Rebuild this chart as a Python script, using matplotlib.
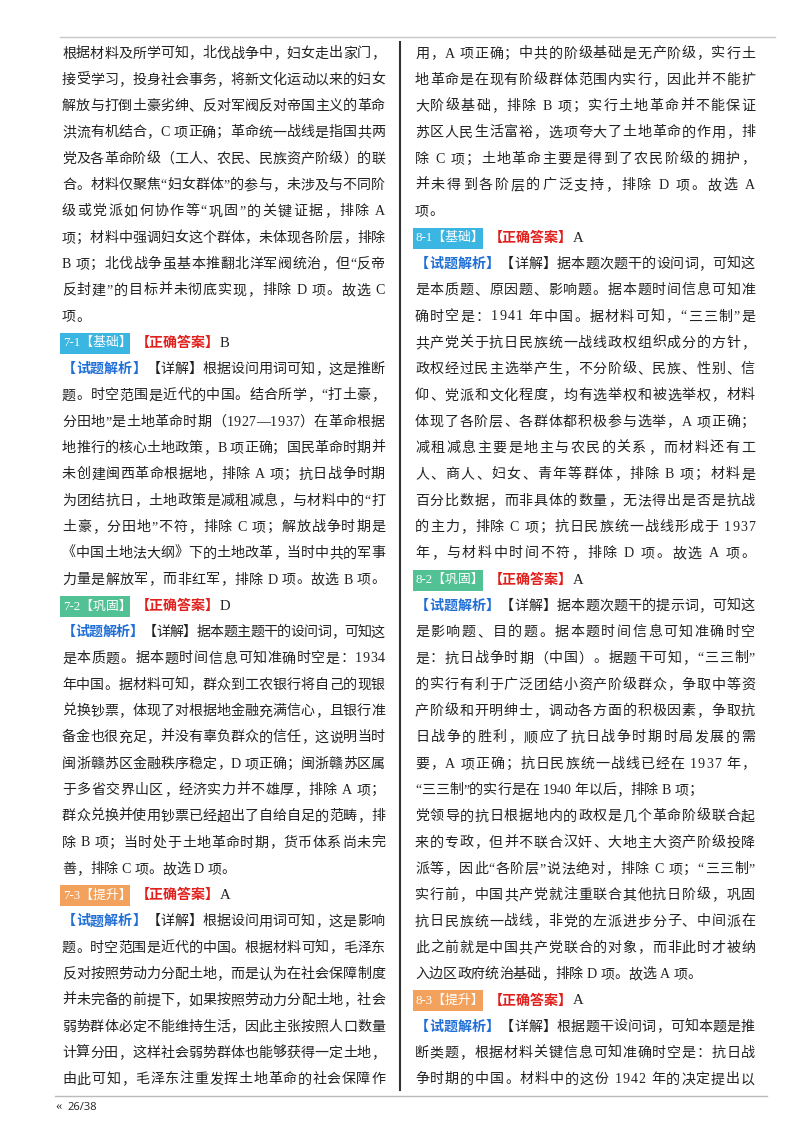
import matplotlib
matplotlib.use("Agg")
import matplotlib.pyplot as plt
from matplotlib.patches import Rectangle

FAMILY = ["Liberation Serif", "Noto Sans CJK SC", "DejaVu Sans"]
FS = 10.1
BLACK = "#222222"
RED = "#e0201c"
BLUE = "#1f6fd6"
BADGE_COLORS = {"基础": "#3bb5e2", "巩固": "#52c194", "提升": "#f3a25e"}
TAG = "【试题解析】"

# badge lines: ("badge", number, level, answer)
left_lines = [
    "根据材料及所学可知，北伐战争中，妇女走出家门，",
    "接受学习，投身社会事务，将新文化运动以来的妇女",
    "解放与打倒土豪劣绅、反对军阀反对帝国主义的革命",
    "洪流有机结合，C 项正确；革命统一战线是指国共两",
    "党及各革命阶级（工人、农民、民族资产阶级）的联",
    "合。材料仅聚焦“妇女群体”的参与，未涉及与不同阶",
    "级或党派如何协作等“巩固”的关键证据，排除 A",
    "项；材料中强调妇女这个群体，未体现各阶层，排除",
    "B 项；北伐战争虽基本推翻北洋军阀统治，但“反帝",
    "反封建”的目标并未彻底实现，排除 D 项。故选 C",
    "项。",
    ("badge", "7-1", "基础", "B"),
    "【试题解析】【详解】根据设问用词可知，这是推断",
    "题。时空范围是近代的中国。结合所学，“打土豪，",
    "分田地”是土地革命时期（1927—1937）在革命根据",
    "地推行的核心土地政策，B 项正确；国民革命时期并",
    "未创建闽西革命根据地，排除 A 项；抗日战争时期",
    "为团结抗日，土地政策是减租减息，与材料中的“打",
    "土豪，分田地”不符，排除 C 项；解放战争时期是",
    "《中国土地法大纲》下的土地改革，当时中共的军事",
    "力量是解放军，而非红军，排除 D 项。故选 B 项。",
    ("badge", "7-2", "巩固", "D"),
    "【试题解析】【详解】据本题主题干的设问词，可知这",
    "是本质题。据本题时间信息可知准确时空是：1934",
    "年中国。据材料可知，群众到工农银行将自己的现银",
    "兑换钞票，体现了对根据地金融充满信心，且银行准",
    "备金也很充足，并没有辜负群众的信任，这说明当时",
    "闽浙赣苏区金融秩序稳定，D 项正确；闽浙赣苏区属",
    "于多省交界山区，经济实力并不雄厚，排除 A 项；",
    "群众兑换并使用钞票已经超出了自给自足的范畴，排",
    "除 B 项；当时处于土地革命时期，货币体系尚未完",
    "善，排除 C 项。故选 D 项。",
    ("badge", "7-3", "提升", "A"),
    "【试题解析】【详解】根据设问用词可知，这是影响",
    "题。时空范围是近代的中国。根据材料可知，毛泽东",
    "反对按照劳动力分配土地，而是认为在社会保障制度",
    "并未完备的前提下，如果按照劳动力分配土地，社会",
    "弱势群体必定不能维持生活，因此主张按照人口数量",
    "计算分田，这样社会弱势群体也能够获得一定土地，",
    "由此可知，毛泽东注重发挥土地革命的社会保障作",
]

right_lines = [
    "用，A 项正确；中共的阶级基础是无产阶级，实行土",
    "地革命是在现有阶级群体范围内实行，因此并不能扩",
    "大阶级基础，排除 B 项；实行土地革命并不能保证",
    "苏区人民生活富裕，选项夸大了土地革命的作用，排",
    "除 C 项；土地革命主要是得到了农民阶级的拥护，",
    "并未得到各阶层的广泛支持，排除 D 项。故选 A",
    "项。",
    ("badge", "8-1", "基础", "A"),
    "【试题解析】【详解】据本题次题干的设问词，可知这",
    "是本质题、原因题、影响题。据本题时间信息可知准",
    "确时空是：1941 年中国。据材料可知，“三三制”是",
    "共产党关于抗日民族统一战线政权组织成分的方针，",
    "政权经过民主选举产生，不分阶级、民族、性别、信",
    "仰、党派和文化程度，均有选举权和被选举权，材料",
    "体现了各阶层、各群体都积极参与选举，A 项正确；",
    "减租减息主要是地主与农民的关系，而材料还有工",
    "人、商人、妇女、青年等群体，排除 B 项；材料是",
    "百分比数据，而非具体的数量，无法得出是否是抗战",
    "的主力，排除 C 项；抗日民族统一战线形成于 1937",
    "年，与材料中时间不符，排除 D 项。故选 A 项。",
    ("badge", "8-2", "巩固", "A"),
    "【试题解析】【详解】据本题次题干的提示词，可知这",
    "是影响题、目的题。据本题时间信息可知准确时空",
    "是：抗日战争时期（中国）。据题干可知，“三三制”",
    "的实行有利于广泛团结小资产阶级群众，争取中等资",
    "产阶级和开明绅士，调动各方面的积极因素，争取抗",
    "日战争的胜利，顺应了抗日战争时期时局发展的需",
    "要，A 项正确；抗日民族统一战线已经在 1937 年，",
    "“三三制”的实行是在 1940 年以后，排除 B 项；",
    "党领导的抗日根据地内的政权是几个革命阶级联合起",
    "来的专政，但并不联合汉奸、大地主大资产阶级投降",
    "派等，因此“各阶层”说法绝对，排除 C 项；“三三制”",
    "实行前，中国共产党就注重联合其他抗日阶级，巩固",
    "抗日民族统一战线，非党的左派进步分子、中间派在",
    "此之前就是中国共产党联合的对象，而非此时才被纳",
    "入边区政府统治基础，排除 D 项。故选 A 项。",
    ("badge", "8-3", "提升", "A"),
    "【试题解析】【详解】根据题干设问词，可知本题是推",
    "断类题，根据材料关键信息可知准确时空是：抗日战",
    "争时期的中国。材料中的这份 1942 年的决定提出以",
]

page_label = "26/38"

fig = plt.figure(figsize=(8, 11.32), dpi=100)
ax = fig.add_axes([0, 0, 1, 1])
ax.set_xlim(0, 800)
ax.set_ylim(1132, 0)
ax.axis("off")
renderer = fig.canvas.get_renderer()

_cache = {}


def char_width(ch, bold=False):
    key = (ch, bold)
    if key not in _cache:
        w = []
        for s in ("丨" + ch + "丨", "丨丨"):
            t = ax.text(0, 0, s, fontsize=FS, family=FAMILY,
                        fontweight="bold" if bold else "normal")
            bb = t.get_window_extent(renderer)
            w.append(bb.width)
            t.remove()
        _cache[key] = w[0] - w[1]
    return _cache[key]


def draw_line(x0, y, line, width):
    chars = []
    for i, ch in enumerate(line):
        is_tag = line.startswith(TAG) and i < len(TAG)
        chars.append((ch, BLUE if is_tag else BLACK, is_tag))
    widths = [char_width(c, b) for c, _, b in chars]
    natural = sum(widths)
    gap = 0.0
    # stretch nearly-full lines to the column edge (justified text)
    if natural > 0.87 * width and len(chars) > 1:
        gap = (width - natural) / (len(chars) - 1)
    x = x0
    for (c, col, b), w in zip(chars, widths):
        if c != " ":
            ax.text(x, y, c, fontsize=FS, family=FAMILY, color=col,
                    fontweight="bold" if b else "normal", va="center")
        x += w + gap


def draw_badge(x0, y, num, level, answer):
    label = f"{num}【{level}】"
    bw = 70
    ax.add_patch(Rectangle((x0 - 2, y - 10.5), bw, 21,
                           color=BADGE_COLORS[level], lw=0))
    ax.text(x0 + 1, y, label, fontsize=FS - 0.8, family=FAMILY,
            color="white", va="center")
    ax.text(x0 + bw + 4, y, "【正确答案】", fontsize=FS, family=FAMILY,
            color=RED, fontweight="bold", va="center")
    ax.text(x0 + bw + 4 + 6 * char_width("正", True), y, answer,
            fontsize=FS + 0.5, family=FAMILY, color=BLACK, va="center")


def draw_column(lines, x0, width):
    for i, line in enumerate(lines):
        y = 54 + i * 26.3
        if isinstance(line, tuple):
            draw_badge(x0, y, *line[1:])
        else:
            draw_line(x0, y, line, width)


draw_column(left_lines, 62, 323)
draw_column(right_lines, 415, 340)

ax.plot([60, 775], [37, 37], color="#c8c8c8", lw=1)
ax.plot([400, 400], [42, 1090], color="#333333", lw=1.5)
ax.plot([55, 767], [1096, 1096], color="#bbbbbb", lw=1)
ax.text(55, 1106, "«", fontsize=9, family=FAMILY, color=BLACK, va="center")
ax.text(67, 1107, page_label, fontsize=8, family=["Open Sans"],
        color=BLACK, va="center")

fig.savefig("out.png", dpi=100)
